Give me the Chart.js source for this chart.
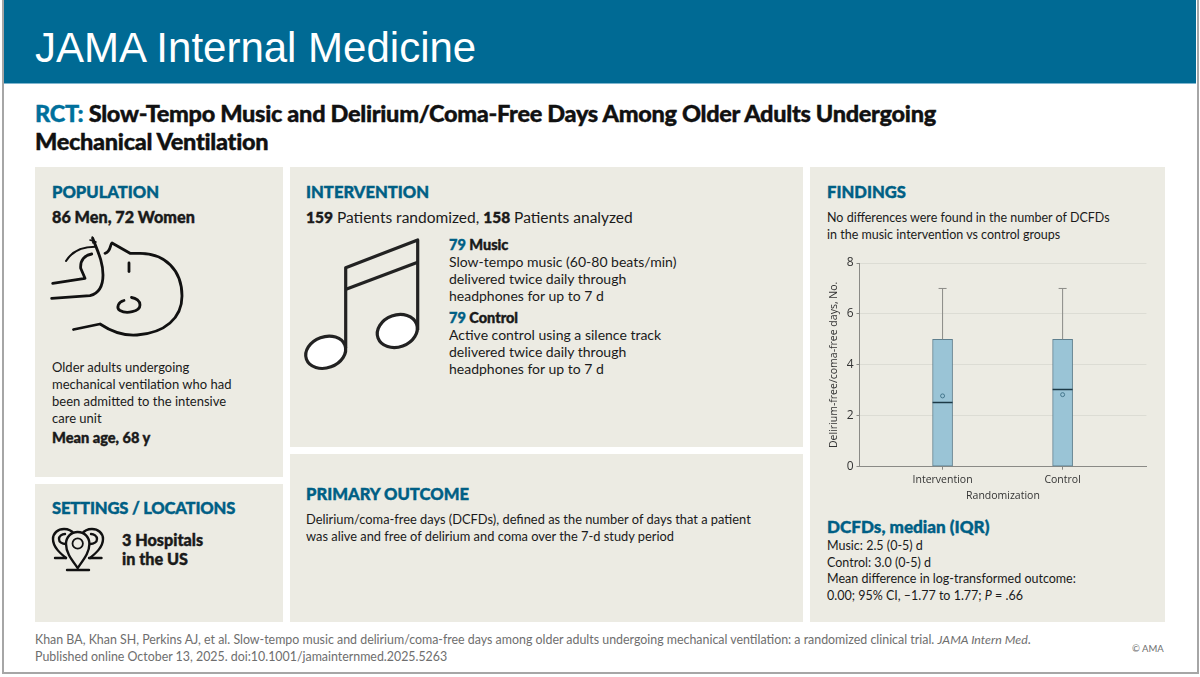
<!DOCTYPE html>
<html>
<head>
<meta charset="utf-8">
<title>JAMA Internal Medicine</title>
<script src="https://cdn.jsdelivr.net/npm/chart.js@4"></script>
<style>
  html, body { margin: 0; padding: 0; background: #fff; }
  #page { position: relative; width: 1200px; height: 677px; overflow: hidden; background: #fff;
    font-family: 'Lato', sans-serif; color: #1a1a1a; }
  #frame { position: absolute; left: 2px; top: 0; width: 1193px; height: 672px; border: 2px solid #a6a6a6; border-top: 0; }
  #banner { position: absolute; left: 4px; top: 0; width: 1192px; height: 83px; background: #006a94; border-bottom: 1px solid #7fb6cf; }
  .panel { position: absolute; background: #ecebe3; }
  .t { position: absolute; white-space: nowrap; }
  .blue { color: #005f85; }
  .head { font-weight: 900; font-size: 16.6px; color: #005f85; line-height: 20px; -webkit-text-stroke: 0.4px #005f85; }
  .bold { font-weight: 900; -webkit-text-stroke: 0.4px currentColor; }
  .body { font-size: 14px; line-height: 17px; }
  .small { font-size: 12.5px; line-height: 16.7px; }
  svg { position: absolute; left: 0; top: 0; }
  #chart-wrap { position: absolute; left: 815px; top: 250px; width: 343px; height: 265px; }
</style>
</head>
<body>
<div id="page">
  <div id="frame"></div>
  <div id="banner"></div>
  <div class="t" style="left:35px;top:25px;font-family:'Liberation Sans',sans-serif;font-size:42px;line-height:46px;color:#fff;">JAMA Internal Medicine</div>

  <div class="t bold" style="left:35px;top:99px;font-size:23.5px;line-height:28px;letter-spacing:-0.3px;color:#111;"><span style="color:#00709c">RCT:</span> Slow-Tempo Music and Delirium/Coma-Free Days Among Older Adults Undergoing</div>
  <div class="t bold" style="left:35px;top:127px;font-size:23.5px;line-height:28px;letter-spacing:-0.3px;color:#111;">Mechanical Ventilation</div>

  <div class="panel" style="left:35px;top:167px;width:248px;height:310px"></div>
  <div class="panel" style="left:35px;top:484px;width:248px;height:138px"></div>
  <div class="panel" style="left:290px;top:167px;width:513px;height:280px"></div>
  <div class="panel" style="left:290px;top:454px;width:513px;height:168px"></div>
  <div class="panel" style="left:810px;top:167px;width:355px;height:455px"></div>

  <svg width="1200" height="677">
    <!-- patient -->
    <g stroke-width="2.8" style="fill:none;stroke:#111;stroke-linecap:round;stroke-linejoin:round">
      <path d="M73.5 329.5 L100 324 C112 332 124 336 137 335 C165 333 182 318 182 296 C182 270 165 253.5 140 253.3 L130 253.3 L112 243 C110 244 111 252 105 253.3"/>
      <path d="M129 263 V271.5"/>
      <path d="M124 300.5 C118 302 116 308 120 310.5 C126 314 140 312 140 305 C140 301 136 298 131.5 297.5"/>
      <path d="M51.7 298.3 L90 295.7 C100 293 103 285 103 275 C103 262 98 252 92.7 238.3"/>
      <path d="M52.7 283.3 L85 278.3 L80.7 268.3 C80 260 85 255 91.7 254"/>
      <path d="M66 261 C71.7 251.7 81.7 246.7 95 246.7" stroke-width="2"/>
      <path d="M90 240 L96 242 M92.3 237 L93 243" stroke-width="1.6"/>
    </g>
    <!-- music note -->
    <g style="stroke:#222;stroke-width:3.2;stroke-linejoin:round" fill="none">
      <path d="M345.7 348 V267.7 L417.7 240 V330"/>
      <path d="M346 289.3 L417.7 262.3"/>
      <ellipse cx="325.7" cy="352.3" rx="20.5" ry="15.5" transform="rotate(-20 325.7 352.3)" fill="#fff"/>
      <ellipse cx="397.3" cy="331" rx="20.5" ry="16" transform="rotate(-20 397.3 331)" fill="#fff"/>
    </g>
    <!-- hospital pins -->
    <g style="stroke:#111;stroke-width:2.4;stroke-linecap:round;stroke-linejoin:round" fill="none">
      <path d="M66 558 C60 553 53 547 53 539 C53 533 58 529 64 529 C68 529 72 531 74 534"/>
      <path d="M90 558 C96 553 103 547 103 539 C103 533 98 529 92 529 C88 529 84 531 82 534"/>
      <path d="M66 544 C62 544 59 542 59 539 C59 536 62 534 65 534"/>
      <path d="M90 544 C94 544 97 542 97 539 C97 536 94 534 91 534"/>
      <path d="M55 558 H66 M89 558 H101.5"/>
      <path d="M77.7 568 C72 560 66 553 66 544 C66 537 71 532 77.7 532 C84.4 532 89.4 537 89.4 544 C89.4 553 83 560 77.7 568 Z" fill="#ecebe3"/>
      <circle cx="77.7" cy="543.5" r="5.2" stroke-width="1.8"/>
      <path d="M67 570 H89"/>
    </g>
  </svg>

  <div class="t head" style="left:52px;top:182px">POPULATION</div>
  <div class="t bold" style="left:52px;top:207px;font-size:16.2px;line-height:20px;">86 Men, 72 Women</div>
  <div class="t" style="left:52px;top:359px;font-size:13px;line-height:17px;">Older adults undergoing<br>mechanical ventilation who had<br>been admitted to the intensive<br>care unit</div>
  <div class="t bold" style="left:52px;top:428px;font-size:14.6px;line-height:20px;">Mean age, 68 y</div>

  <div class="t head" style="left:52px;top:498px;letter-spacing:-0.2px">SETTINGS / LOCATIONS</div>
  <div class="t bold" style="left:122px;top:530px;font-size:16.2px;line-height:19px;">3 Hospitals<br>in the US</div>

  <div class="t head" style="left:306px;top:182px">INTERVENTION</div>
  <div class="t" style="left:306px;top:207px;font-size:15.5px;line-height:20px;"><b class="bold">159</b> Patients randomized, <b class="bold">158</b> Patients analyzed</div>
  <div class="t bold" style="left:449px;top:236px;font-size:14.5px;line-height:18px;"><span class="blue">79</span> Music</div>
  <div class="t body" style="left:449px;top:253px">Slow-tempo music (60-80 beats/min)<br>delivered twice daily through<br>headphones for up to 7 d</div>
  <div class="t bold" style="left:449px;top:309px;font-size:14.5px;line-height:18px;"><span class="blue">79</span> Control</div>
  <div class="t body" style="left:449px;top:326px">Active control using a silence track<br>delivered twice daily through<br>headphones for up to 7 d</div>

  <div class="t head" style="left:306px;top:484px">PRIMARY OUTCOME</div>
  <div class="t" style="left:306px;top:511px;font-size:12.85px;line-height:17px;">Delirium/coma-free days (DCFDs), defined as the number of days that a patient<br>was alive and free of delirium and coma over the 7-d study period</div>

  <div class="t head" style="left:827px;top:182px">FINDINGS</div>
  <div class="t small" style="left:827px;top:210px">No differences were found in the number of DCFDs<br>in the music intervention vs control groups</div>

  <div id="chart-wrap"><canvas id="boxChart"></canvas></div>

  <div class="t head" style="left:827px;top:517px;font-size:17.1px">DCFDs, median (IQR)</div>
  <div class="t small" style="left:827px;top:538px">Music: 2.5 (0-5) d<br>Control: 3.0 (0-5) d<br>Mean difference in log-transformed outcome:<br>0.00; 95% CI, –1.77 to 1.77; <i>P</i> = .66</div>

  <div class="t" style="left:35px;top:632px;font-size:12.4px;line-height:16.5px;color:#6e6e6e;">Khan BA, Khan SH, Perkins AJ, et al. Slow-tempo music and delirium/coma-free days among older adults undergoing mechanical ventilation: a randomized clinical trial. <i>JAMA Intern Med</i>.<br>Published online October 13, 2025. doi:10.1001/jamainternmed.2025.5263</div>
  <div class="t" style="left:1132px;top:642px;font-size:9.5px;line-height:13px;color:#6e6e6e;">© AMA</div>
</div>

<script>
const arms = ['Intervention', 'Control'];
const boxLow = [0, 0];
const boxHigh = [5, 5];
const medians = [2.52, 3.03];
const means = [2.78, 2.83];
const whiskerTop = [7, 7];
const yTicks = [0, 2, 4, 6, 8];

const axisGray = '#8a8a86';
const chartFont = { family: "'Open Sans', sans-serif", size: 10.5 };

function whisker(i) {
  return {
    type: 'line',
    data: [{ x: i, y: boxHigh[i] }, { x: i, y: whiskerTop[i] }],
    borderColor: axisGray,
    borderWidth: 1,
    pointRadius: [0, 4],
    pointStyle: 'line',
    pointBorderColor: axisGray,
    pointBorderWidth: 1,
    order: 3,
  };
}

new Chart(document.getElementById('boxChart'), {
  type: 'bar',
  data: {
    datasets: [
      {
        type: 'bar',
        data: arms.map((a, i) => ({ x: i, y: [boxLow[i], boxHigh[i]] })),
        backgroundColor: '#9ac4d6',
        borderColor: '#5e7f8e',
        borderWidth: 1,
        borderSkipped: false,
        barThickness: 20,
        order: 4,
      },
      whisker(0),
      whisker(1),
      {
        type: 'scatter',
        data: arms.map((a, i) => ({ x: i, y: medians[i] })),
        pointStyle: 'line',
        pointRadius: 10,
        pointBorderColor: '#1d3a47',
        pointBorderWidth: 1.6,
        order: 2,
      },
      {
        type: 'scatter',
        data: arms.map((a, i) => ({ x: i, y: means[i] })),
        pointStyle: 'circle',
        pointRadius: 2,
        pointBackgroundColor: 'transparent',
        pointBorderColor: '#3c6f86',
        pointBorderWidth: 0.9,
        order: 1,
      },
    ],
  },
  options: {
    responsive: true,
    maintainAspectRatio: false,
    animation: false,
    layout: { padding: { left: 12.5, right: 8, top: 13, bottom: 0 } },
    plugins: { legend: { display: false }, tooltip: { enabled: false } },
    scales: {
      x: {
        type: 'linear',
        offset: false,
        min: -0.692,
        max: 1.698,
        afterBuildTicks: (scale) => { scale.ticks = arms.map((a, i) => ({ value: i })); },
        afterFit: (scale) => { scale.height = 48.3; },
        grid: { offset: false, drawOnChartArea: false, color: axisGray, tickLength: 3 },
        border: { color: axisGray },
        ticks: {
          font: chartFont,
          color: '#333',
          padding: 4,
          maxRotation: 0,
          autoSkip: false,
          callback: (v) => arms[v],
        },
        title: { display: true, text: 'Randomization', font: chartFont, color: '#333', padding: { top: 1, bottom: 13 } },
      },
      y: {
        min: 0,
        max: 8,
        afterBuildTicks: (scale) => { scale.ticks = yTicks.map((v) => ({ value: v })); },
        afterFit: (scale) => { scale.width = 32; },
        grid: { color: '#dcdcd4', tickColor: axisGray, tickLength: 3 },
        border: { color: axisGray },
        ticks: { font: { family: chartFont.family, size: 12 }, color: '#333', padding: 3 },
        title: { display: true, text: 'Delirium-free/coma-free days, No.', font: chartFont, color: '#333', padding: 0 },
      },
    },
  },
});
</script>
</body>
</html>
